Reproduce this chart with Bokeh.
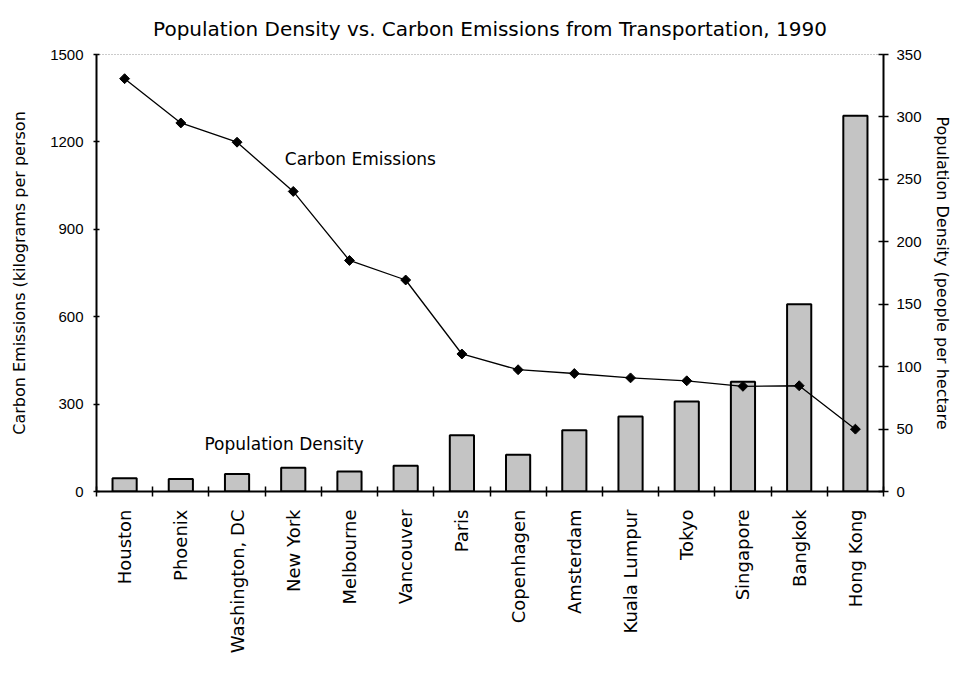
import math
from bokeh.plotting import figure
from bokeh.models import Range1d, LinearAxis, FixedTicker, Span, Label
from bokeh.embed import file_html
from bokeh.resources import INLINE

cities = ["Houston", "Phoenix", "Washington, DC", "New York", "Melbourne", "Vancouver",
          "Paris", "Copenhagen", "Amsterdam", "Kuala Lumpur", "Tokyo", "Singapore",
          "Bangkok", "Hong Kong"]
carbon = [1417, 1265, 1199, 1030, 793, 726, 472, 418, 405, 390, 380, 361, 363, 214]
density = [10.7, 10, 14, 19, 16, 20.6, 45, 29.4, 49, 60, 72, 88, 150, 301]
left_ticks = [0, 300, 600, 900, 1200, 1500]
right_ticks = [0, 50, 100, 150, 200, 250, 300, 350]

NUM_FONT = "Liberation Sans"
FONT = "DejaVu Sans"
xs = [i + 0.5 for i in range(len(cities))]

p = figure(width=955, height=671, output_backend="svg", toolbar_location=None,
           x_range=Range1d(0, len(cities)), y_range=Range1d(0, 1500),
           min_border_left=96, min_border_right=72, min_border_top=53, min_border_bottom=180)
p.extra_y_ranges = {"dens": Range1d(0, 350)}

p.title.text = "Population Density vs. Carbon Emissions from Transportation, 1990"
p.title.align = "center"
p.title.text_font = FONT
p.title.text_font_size = "20px"
p.title.text_font_style = "normal"
p.title.text_color = "black"
p.title.offset = 0
p.title.standoff = 28

p.grid.visible = False
p.outline_line_color = None
p.background_fill_color = "white"
p.border_fill_color = "white"

# bars on right axis
p.vbar(x=xs, top=density, width=0.43, bottom=0, y_range_name="dens",
       fill_color="#c4c4c4", line_color="black", line_width=2)

# carbon line
p.line(xs, carbon, line_color="black", line_width=1.3)
p.scatter(xs, carbon, marker="square", angle=math.pi / 4, size=7,
          fill_color="black", line_color="black")

# top dotted border
p.add_layout(Span(location=1500, dimension="width", line_color="#333333",
                  line_dash="1 2", line_width=1))

# x axis
xa = p.xaxis[0]
xa.ticker = FixedTicker(ticks=xs, minor_ticks=list(range(len(cities) + 1)))
xa.major_label_overrides = {x: c for x, c in zip(xs, cities)}
xa.major_label_orientation = math.pi / 2
xa.major_tick_line_color = None
xa.minor_tick_line_color = "black"
xa.minor_tick_line_width = 1.5
xa.minor_tick_in = 5
xa.minor_tick_out = 5
xa.axis_line_color = "black"
xa.axis_line_width = 2
xa.major_label_text_font = FONT
xa.major_label_text_font_size = "18px"
xa.major_label_text_color = "black"
xa.major_label_standoff = 12

# left axis
ya = p.yaxis[0]
ya.ticker = FixedTicker(ticks=left_ticks)
ya.minor_tick_line_color = None
ya.major_tick_in = 3
ya.major_tick_out = 3
ya.major_tick_line_width = 1.5
ya.axis_line_width = 2
ya.major_label_text_font = NUM_FONT
ya.major_label_text_font_size = "15px"
ya.major_label_text_color = "black"
ya.major_label_standoff = 10
ya.axis_label = "Carbon Emissions (kilograms per person"
ya.axis_label_text_font = FONT
ya.axis_label_text_font_size = "16px"
ya.axis_label_text_font_style = "normal"
ya.axis_label_text_color = "black"
ya.axis_label_standoff = 18

# right axis
ra = LinearAxis(y_range_name="dens", ticker=FixedTicker(ticks=right_ticks))
ra.minor_tick_line_color = None
ra.major_tick_in = 5
ra.major_tick_out = 5
ra.major_tick_line_width = 1.5
ra.axis_line_width = 2
ra.major_label_text_font = NUM_FONT
ra.major_label_text_font_size = "15px"
ra.major_label_text_color = "black"
ra.major_label_standoff = 8
ra.axis_label = "Population Density (people per hectare"
ra.axis_label_text_font = FONT
ra.axis_label_text_font_size = "16px"
ra.axis_label_text_font_style = "normal"
ra.axis_label_text_color = "black"
ra.axis_label_standoff = 8
p.add_layout(ra, "right")

p.add_layout(Label(x=3.35, y=1143, text="Carbon Emissions", text_font=FONT,
                   text_font_size="17px", text_baseline="middle", text_color="black"))
p.add_layout(Label(x=1.92, y=164, text="Population Density", text_font=FONT,
                   text_font_size="17px", text_baseline="middle", text_color="black"))

open("out.html", "w").write(file_html(p, INLINE))
